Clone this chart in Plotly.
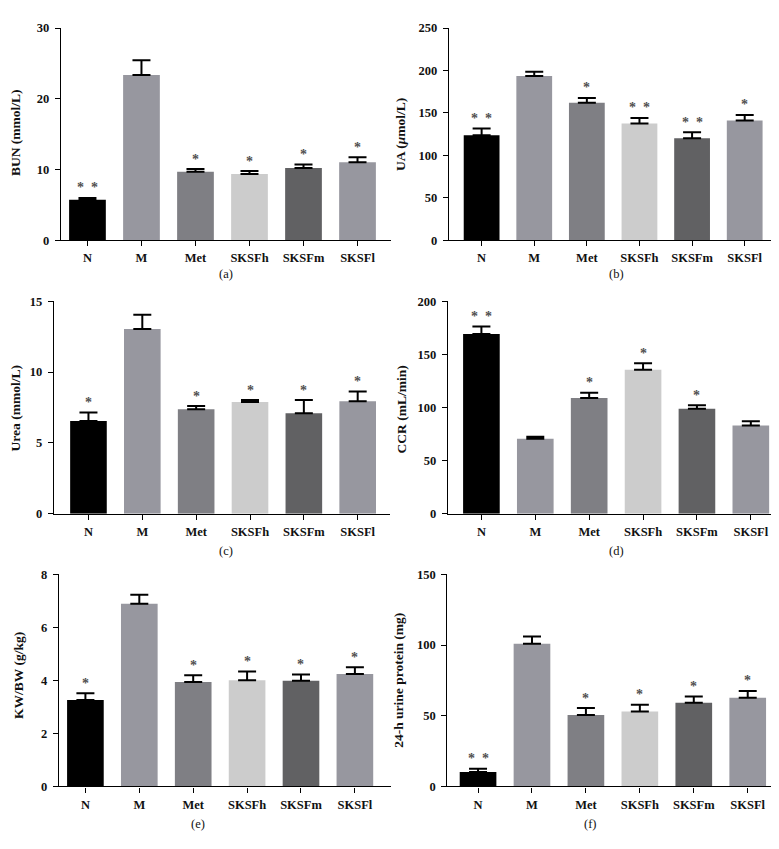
import plotly.graph_objects as go

W, H = 779, 849

categories = ["N", "M", "Met", "SKSFh", "SKSFm", "SKSFl"]
bar_colors = ["#000000", "#97979f", "#7f7f84", "#cccccc", "#616163", "#97979f"]

# panel (a) BUN
bun_mean = [5.74, 23.37, 9.69, 9.36, 10.2, 11.03]
bun_top = [5.98, 25.45, 10.06, 9.78, 10.7, 11.73]
bun_sig = ["**", "", "*", "*", "*", "*"]
# panel (b) UA
ua_mean = [123.6, 193.6, 161.9, 137.6, 120.2, 141.0]
ua_top = [131.8, 198.6, 167.7, 144.1, 127.1, 147.6]
ua_sig = ["**", "", "*", "**", "**", "*"]
# panel (c) Urea
urea_mean = [6.54, 13.03, 7.37, 7.88, 7.09, 7.93]
urea_top = [7.14, 14.05, 7.60, 8.02, 8.02, 8.63]
urea_sig = ["*", "", "*", "*", "*", "*"]
# panel (d) CCR
ccr_mean = [169.3, 70.6, 109.0, 135.6, 98.8, 83.0]
ccr_top = [176.5, 72.4, 113.9, 141.8, 102.2, 87.0]
ccr_sig = ["**", "", "*", "*", "*", ""]
# panel (e) KW/BW
kw_mean = [3.26, 6.89, 3.94, 4.00, 3.98, 4.24]
kw_top = [3.51, 7.23, 4.19, 4.33, 4.22, 4.49]
kw_sig = ["*", "", "*", "*", "*", "*"]
# panel (f) 24-h urine protein
up_mean = [10.2, 100.9, 50.5, 52.9, 59.1, 62.6]
up_top = [12.5, 106.0, 55.4, 57.7, 63.5, 67.5]
up_sig = ["**", "", "*", "*", "*", "*"]

y_titles_html = ["BUN (mmol/L)", "UA (<i>\u03bc</i>mol/L)", "Urea (mmol/L)", "CCR (mL/min)",
                 "KW/BW (g/kg)", "24-h urine protein (mg)"]
sub_labels = ["(a)", "(b)", "(c)", "(d)", "(e)", "(f)"]
y_max = [30, 250, 15, 200, 8, 150]
y_dtick = [10, 50, 5, 50, 2, 50]

panels = [
    (bun_mean, bun_top, bun_sig),
    (ua_mean, ua_top, ua_sig),
    (urea_mean, urea_top, urea_sig),
    (ccr_mean, ccr_top, ccr_sig),
    (kw_mean, kw_top, kw_sig),
    (up_mean, up_top, up_sig),
]

# layout geometry in pixels: (x0, x1, ytop, ybottom)
boxes = [
    (53, 383, 13.3, 229),
    (441, 773, 13.3, 229),
    (46, 382, 291, 507),
    (440, 773, 291.3, 507),
    (51, 383, 568.7, 784.3),
    (439.3, 771, 568.7, 784.3),
]
x_ranges = [(-0.49, 5.62), (-0.62, 5.69), (-0.64, 5.60), (-0.62, 5.56), (-0.49, 5.67), (-0.57, 5.58)]
title_pos = [(7, 120), (393, 122), (7, 400), (393, 401), (11, 672), (391, 676)]
sub_pos = [(218, 263), (608, 263), (218, 545), (608, 545), (190, 823), (582, 823)]

FONT = "Liberation Serif"
fig = go.Figure()
annotations = []

def px_x(v):
    return v / W

def px_y(v):
    return 1 - v / H

for i, (mean, top, sig) in enumerate(panels):
    k = "" if i == 0 else str(i + 1)
    xa, ya = "x" + k, "y" + k
    fig.add_trace(go.Bar(
        x=categories, y=mean, xaxis=xa, yaxis=ya,
        marker=dict(color=bar_colors, line=dict(width=0)),
        width=0.68,
        error_y=dict(type="data", symmetric=False,
                     array=[t - m for t, m in zip(top, mean)],
                     arrayminus=[0] * len(mean),
                     color="#000000", thickness=2, width=9),
        showlegend=False, hoverinfo="skip",
    ))
    x0, x1, yt, yb = boxes[i]
    fig.layout["xaxis" + k] = dict(
        domain=[px_x(x0), px_x(x1)], anchor=ya, type="category",
        range=list(x_ranges[i]), showline=True, linecolor="#000000", linewidth=1.3,
        ticks="outside", ticklen=5, tickwidth=1.3, tickcolor="#000000",
        ticklabelstandoff=1,
        showgrid=False, zeroline=False, fixedrange=True,
        tickfont=dict(family=FONT, size=12.5, color="#111111", weight="bold"),
    )
    fig.layout["yaxis" + k] = dict(
        domain=[px_y(yb), px_y(yt)], anchor=xa,
        range=[0, y_max[i]], dtick=y_dtick[i], tick0=0,
        showline=True, linecolor="#000000", linewidth=1.3,
        ticks="outside", ticklen=5, tickwidth=1.3, tickcolor="#000000",
        ticklabelstandoff=3,
        showgrid=False, zeroline=False, fixedrange=True,
        tickfont=dict(family=FONT, size=12.5, color="#111111", weight="bold"),
    )
    # significance stars
    for c, t, s in zip(categories, top, sig):
        if not s:
            continue
        txt = "*\u2002*" if s == "**" else "*"
        annotations.append(dict(
            x=c, y=t, xref=xa, yref=ya, text=txt, showarrow=False,
            yanchor="middle", yshift=10,
            font=dict(family=FONT, size=14, color="#505050", weight="bold"),
        ))
    # y-axis title
    tx, ty = title_pos[i]
    annotations.append(dict(
        x=px_x(tx), y=px_y(ty), xref="paper", yref="paper",
        text="<b>" + y_titles_html[i] + "</b>", textangle=-90, showarrow=False,
        xanchor="center", yanchor="middle",
        font=dict(family=FONT, size=13.5, color="#111111"),
    ))
    # panel sub-label
    sx, sy = sub_pos[i]
    annotations.append(dict(
        x=px_x(sx), y=px_y(sy), xref="paper", yref="paper",
        text=sub_labels[i], showarrow=False, xanchor="center", yanchor="middle",
        font=dict(family=FONT, size=12.5, color="#111111"),
    ))

fig.update_layout(
    width=W, height=H, margin=dict(l=0, r=0, t=0, b=0),
    paper_bgcolor="#ffffff", plot_bgcolor="#ffffff",
    annotations=annotations, bargap=0.3,
)

fig.write_html("out.html", config={"displayModeBar": False})
